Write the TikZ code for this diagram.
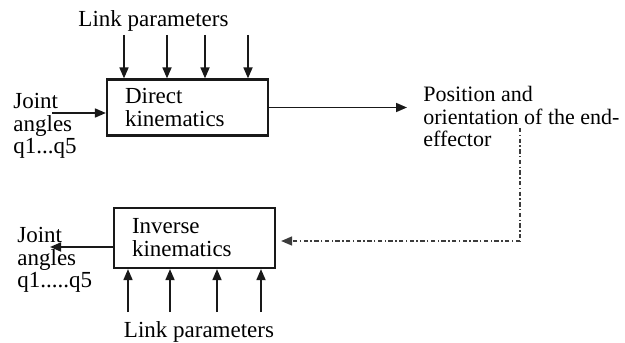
\documentclass[tikz,border=0pt]{standalone}
\usepackage{fontspec}
\setmainfont{Liberation Serif}
\usepackage{tikz}
\usetikzlibrary{
    arrows.meta,
    positioning,
    calc
}
\definecolor{Kline}{RGB}{25, 25, 25}
\definecolor{Kdash}{RGB}{60, 60, 60}
\tikzset{
    kbox/.style={
        rectangle, draw=Kline, line width=1.1pt, fill=white,
        minimum width=80.5pt, text width=62.5pt, inner xsep=9pt,
        align=left, font=\fontsize{11.5}{11.5}\selectfont
    },
    ktext/.style={
        align=left, inner sep=0pt, font=\fontsize{11.5}{11.2}\selectfont
    },
    karr/.style={-{Triangle[length=5.5pt, width=4.5pt]}, line width=0.85pt, Kline},
    kdash/.style={line width=0.7pt, Kdash,
        dash pattern=on 2.2pt off 1.2pt on 0.7pt off 1.2pt},
}

\begin{document}
\begin{tikzpicture}[x=0.5pt, y=-0.5pt]

    \useasboundingbox (0,0) rectangle (625,342);

    % ── Blocks ───────────────────────────────────────────
    \node [kbox, minimum height=28pt] (dk) at (187.5,107.5) {Direct\\kinematics};
    \node [kbox, minimum height=30pt] (ik) at (194.5,238) {Inverse\\kinematics};

    % ── Labels ───────────────────────────────────────────
    \node [ktext] (lptop) at (153.5,21) {Link parameters};
    \node [ktext] (lpbot) at (199,332) {Link parameters};
    \node [ktext, anchor=north west] (jain) at (13,93) {Joint\\angles\\q1...q5};
    \node [ktext, anchor=north west] (jaout) at (17,227) {Joint\\angles\\q1.....q5};
    \node [ktext, anchor=north west, font=\fontsize{11}{11.2}\selectfont]
        (pos) at (423,86) {Position and\\orientation of the end-\\effector};

    % ── Link parameter arrows ────────────────────────────
    \foreach \x [count=\i] in {124,167,205,248} {
        \coordinate (lt\i) at (\x,35);
        \draw [karr] (lt\i) -- (lt\i |- dk.north);
    }
    \foreach \x [count=\i] in {128,170,217,261} {
        \coordinate (lb\i) at (\x,312);
        \draw [karr] (lb\i) -- (lb\i |- ik.south);
    }

    % ── Main arrows ──────────────────────────────────────
    \coordinate (jstart) at (52,113);
    \draw [karr] (jstart) -- (jstart -| dk.west);
    \draw [karr, shorten >=8pt] (dk.east) -- (dk.east -| pos.west);
    \coordinate (jend) at (50,247);
    \draw [karr] (jend -| ik.west) -- (jend);

    % ── Feedback path ────────────────────────────────────
    \coordinate (fbtop) at (520,128);
    \coordinate (fbcorner) at (520,241);
    \draw [kdash] (fbtop) -- (fbcorner);
    \draw [kdash, -{Triangle[length=5.5pt, width=4.5pt]}, shorten >=2.5pt] (fbcorner) -- (fbcorner -| ik.east);

\end{tikzpicture}
\end{document}
